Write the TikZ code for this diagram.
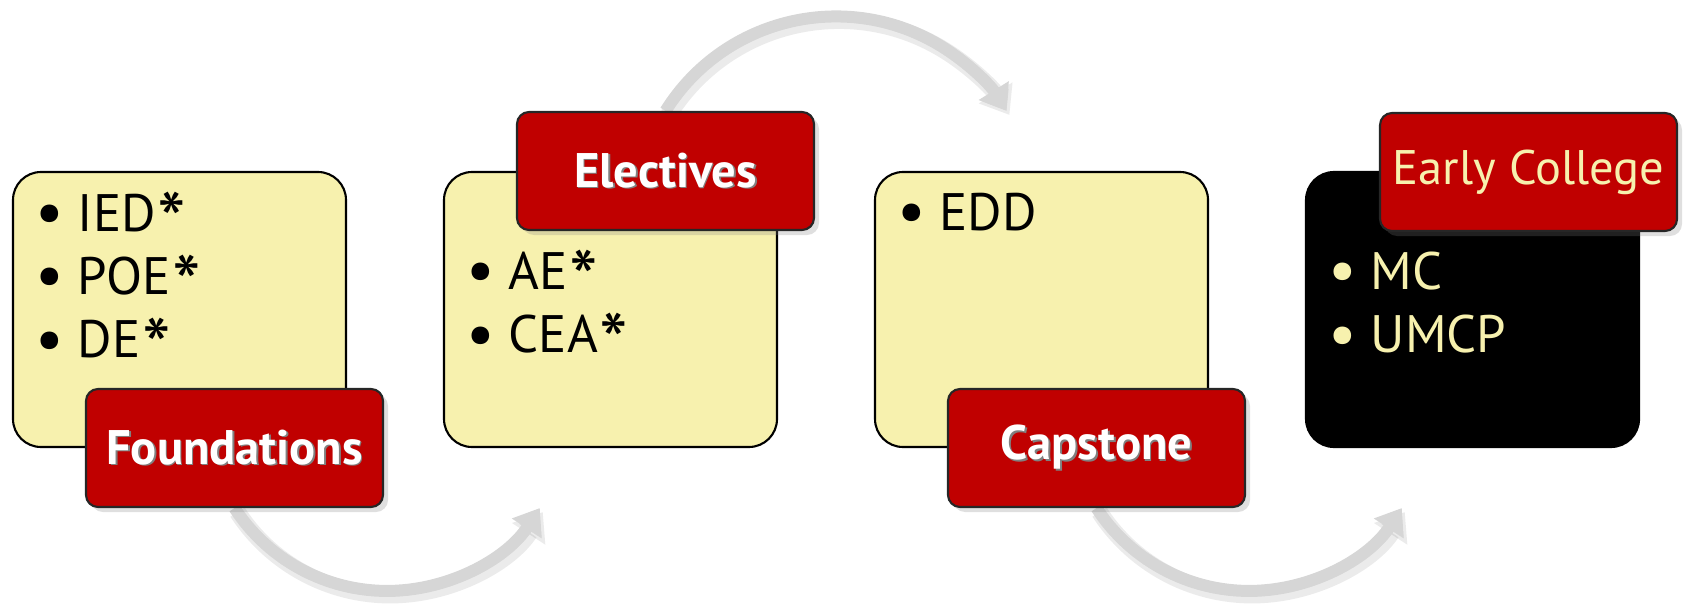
\documentclass[tikz,border=0pt]{standalone}
\usepackage{fontspec}
\usepackage{graphicx}
\setmainfont{PT Sans}
\usetikzlibrary{arrows.meta,positioning,shadows,backgrounds}
\definecolor{paleyellow}{HTML}{F7F1AE}
\definecolor{tagred}{HTML}{C00000}
\definecolor{flowgray}{HTML}{D6D6D6}
\newcommand\bul[1]{\makebox[0.42cm][l]{\smash{\raisebox{-0.05em}{\scalebox{1.2}{\textbullet}}}}#1}
\newcommand\bigast{\kern0.03em\smash{\raisebox{-0.36em}{\scalebox{1.55}{*}}}}
\newcommand\embossed[1]{\makebox[0pt][l]{\kern0.5pt\raisebox{-0.5pt}{\color{black!50}#1}}#1}
\tikzset{
  card/.style ={rectangle, rounded corners=0.28cm, minimum width=3.33cm, minimum height=2.75cm,
    outer sep=0pt, draw=black, line width=0.6pt, fill=paleyellow},
  tag/.style  ={rectangle, rounded corners=0.12cm, minimum width=2.97cm, minimum height=1.18cm,
    draw=black!85, line width=0.6pt, fill=tagred, text=white,
    font=\fontsize{13.8}{16}\selectfont\bfseries,
    drop shadow={shadow xshift=0.05cm, shadow yshift=-0.05cm, opacity=0.25}},
  items/.style={anchor=north west, inner sep=0pt, align=left, font=\fontsize{15}{18}\selectfont},
  flow/.style ={draw=flowgray, line width=0.12cm, -{Triangle[width=0.34cm,length=0.24cm]}},
  flow shadow/.style={draw=black, opacity=0.08, line width=0.17cm,
    -{Triangle[width=0.38cm,length=0.26cm]}, transform canvas={shift={(0.03cm,-0.04cm)}}}
}

\begin{document}
\begin{tikzpicture}
\useasboundingbox (0,0) rectangle (16.84,6.03);

\node[card] (c1) at (1.795,2.935) {};
\node[card, right=0.98cm of c1] (c2) {};
\node[card, right=0.98cm of c2] (c3) {};
\node[card, right=0.98cm of c3, fill=black] (c4) {};

\node[items, below right=0.21cm and 0.22cm of c1.north west] (l1)
  {\bul{IED\bigast}\\ \bul{POE\bigast}\\ \bul{DE\bigast}};
\node[items, below right=0.79cm and 0.22cm of c2.north west] (l2)
  {\bul{AE\bigast}\\ \bul{CEA\bigast}};
\node[items, below right=0.20cm and 0.22cm of c3.north west] (l3)
  {\bul{EDD}};
\node[items, below right=0.79cm and 0.22cm of c4.north west, text=paleyellow] (l4)
  {\bul{MC}\\ \bul{UMCP}};

\node[tag] (t1) at ([xshift=0.55cm,yshift=-0.01cm]c1.south) {\embossed{Foundations}};
\node[tag] (t2) at ([xshift=0.55cm,yshift=0.01cm]c2.north) {\embossed{Electives}};
\node[tag] (t3) at ([xshift=0.55cm,yshift=-0.01cm]c3.south) {\embossed{Capstone}};
\node[tag, text=paleyellow, font=\fontsize{13.8}{16}\selectfont] (t4)
  at ([xshift=0.56cm]c4.north) {Early College};

\begin{scope}[on background layer]
  \draw[flow shadow] (t1.south) arc[start angle=213, end angle=327, radius=1.82cm];
  \draw[flow]        (t1.south) arc[start angle=213, end angle=327, radius=1.82cm];
  \draw[flow shadow] (t2.north) arc[start angle=148, end angle=32, radius=2.01cm];
  \draw[flow]        (t2.north) arc[start angle=148, end angle=32, radius=2.01cm];
  \draw[flow shadow] (t3.south) arc[start angle=213, end angle=327, radius=1.82cm];
  \draw[flow]        (t3.south) arc[start angle=213, end angle=327, radius=1.82cm];
\end{scope}
\end{tikzpicture}
\end{document}
